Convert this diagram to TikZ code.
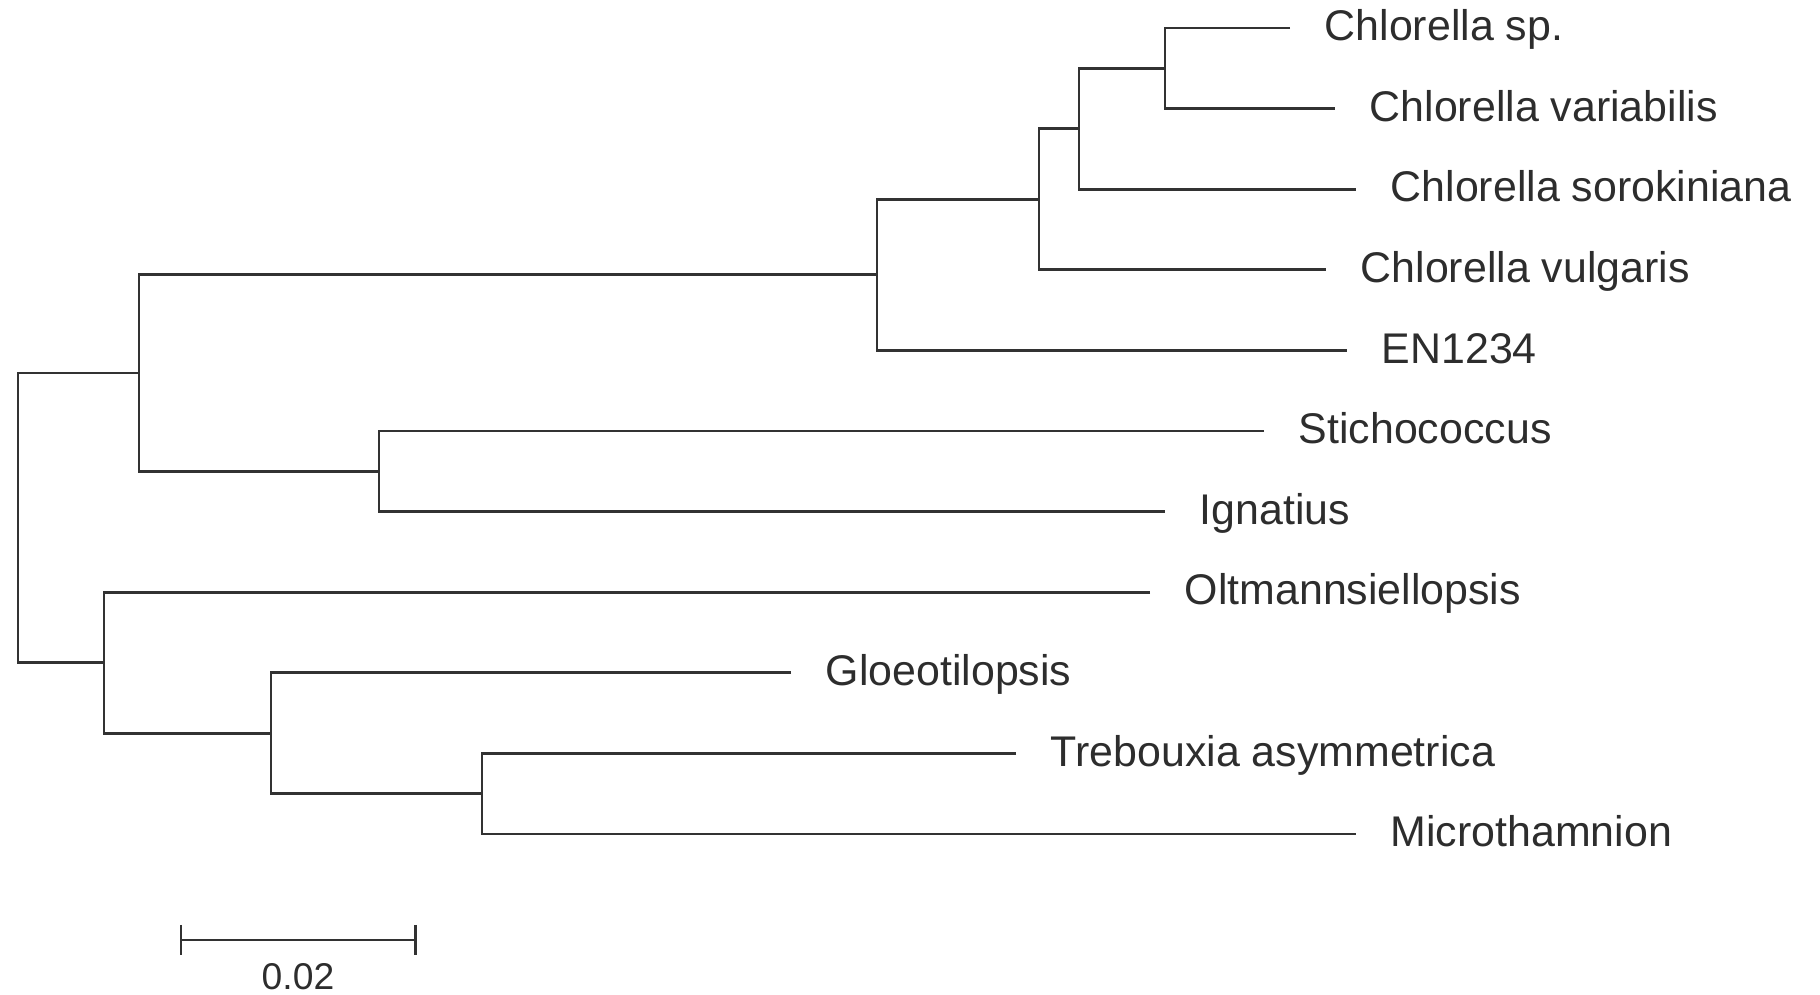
\documentclass[tikz,border=0pt]{standalone}
\usepackage{fontspec}
\setmainfont{Liberation Sans}
\usetikzlibrary{positioning}
\definecolor{cbranch}{RGB}{50,50,50}
\definecolor{clabel}{RGB}{45,45,45}

\begin{document}
\begin{tikzpicture}[x=0.01cm, y=-0.01cm,
    branch/.style={draw=cbranch, line width=0.75pt},
    taxon/.style={inner sep=0pt, text=clabel, font=\fontsize{12.2}{14.6}\selectfont,
                  text height=0.72em, text depth=0pt},
    scalelabel/.style={inner sep=0pt, text=clabel, font=\fontsize{10.6}{12.7}\selectfont,
                  text height=0.72em, text depth=0pt}]
  \useasboundingbox (0,0) rectangle (1820,995);
  % tips of the branches
  \coordinate (e1) at (1290,28);
  \coordinate (e2) at (1335,108.6);
  \coordinate (e3) at (1356,189.2);
  \coordinate (e4) at (1326,269.8);
  \coordinate (e5) at (1347,350.4);
  \coordinate (e6) at (1264,431);
  \coordinate (e7) at (1165,511.6);
  \coordinate (e8) at (1150,592.2);
  \coordinate (e9) at (791,672.8);
  \coordinate (e10) at (1016,753.4);
  \coordinate (e11) at (1356,834);
  % inner nodes
  \coordinate (nF) at (1165,68.3);
  \coordinate (nE) at (1079,128.7);
  \coordinate (nD) at (1039,199.3);
  \coordinate (nB) at (877,274.8);
  \coordinate (nC) at (379,471.3);
  \coordinate (nA) at (139,373.1);
  \coordinate (nI) at (482,793.7);
  \coordinate (nH) at (271,733.2);
  \coordinate (nG) at (104,662.7);
  \coordinate (root) at (18,517.9);
  % branches
  \draw[branch] (e1) -| (nF) |- (e2);
  \draw[branch] (nF) -| (nE) |- (e3);
  \draw[branch] (nE) -| (nD) |- (e4);
  \draw[branch] (nD) -| (nB) |- (e5);
  \draw[branch] (e6) -| (nC) |- (e7);
  \draw[branch] (nB) -| (nA) |- (nC);
  \draw[branch] (e10) -| (nI) |- (e11);
  \draw[branch] (e9) -| (nH) |- (nI);
  \draw[branch] (e8) -| (nG) |- (nH);
  \draw[branch] (nA) -| (root) |- (nG);
  % taxon names
  \node[taxon, right=0.34cm of e1] (t1) {Chlorella sp.};
  \node[taxon, right=0.34cm of e2] (t2) {Chlorella variabilis};
  \node[taxon, right=0.34cm of e3] (t3) {Chlorella sorokiniana};
  \node[taxon, right=0.34cm of e4] (t4) {Chlorella vulgaris};
  \node[taxon, right=0.34cm of e5] (t5) {EN1234};
  \node[taxon, right=0.34cm of e6] (t6) {Stichococcus};
  \node[taxon, right=0.34cm of e7] (t7) {Ignatius};
  \node[taxon, right=0.34cm of e8] (t8) {Oltmannsiellopsis};
  \node[taxon, right=0.34cm of e9] (t9) {Gloeotilopsis};
  \node[taxon, right=0.34cm of e10] (t10) {Trebouxia asymmetrica};
  \node[taxon, right=0.34cm of e11] (t11) {Microthamnion};
  % scale bar
  \coordinate (sbL) at (181,940);
  \coordinate (sbR) at (415.5,940);
  \draw[branch] (sbL) -- (sbR);
  \draw[branch] (sbL) ++(0,-15) -- ++(0,30);
  \draw[branch] (sbR) ++(0,-15) -- ++(0,30);
  \node[scalelabel] (sbtext) at (298,977) {0.02};
\end{tikzpicture}
\end{document}
